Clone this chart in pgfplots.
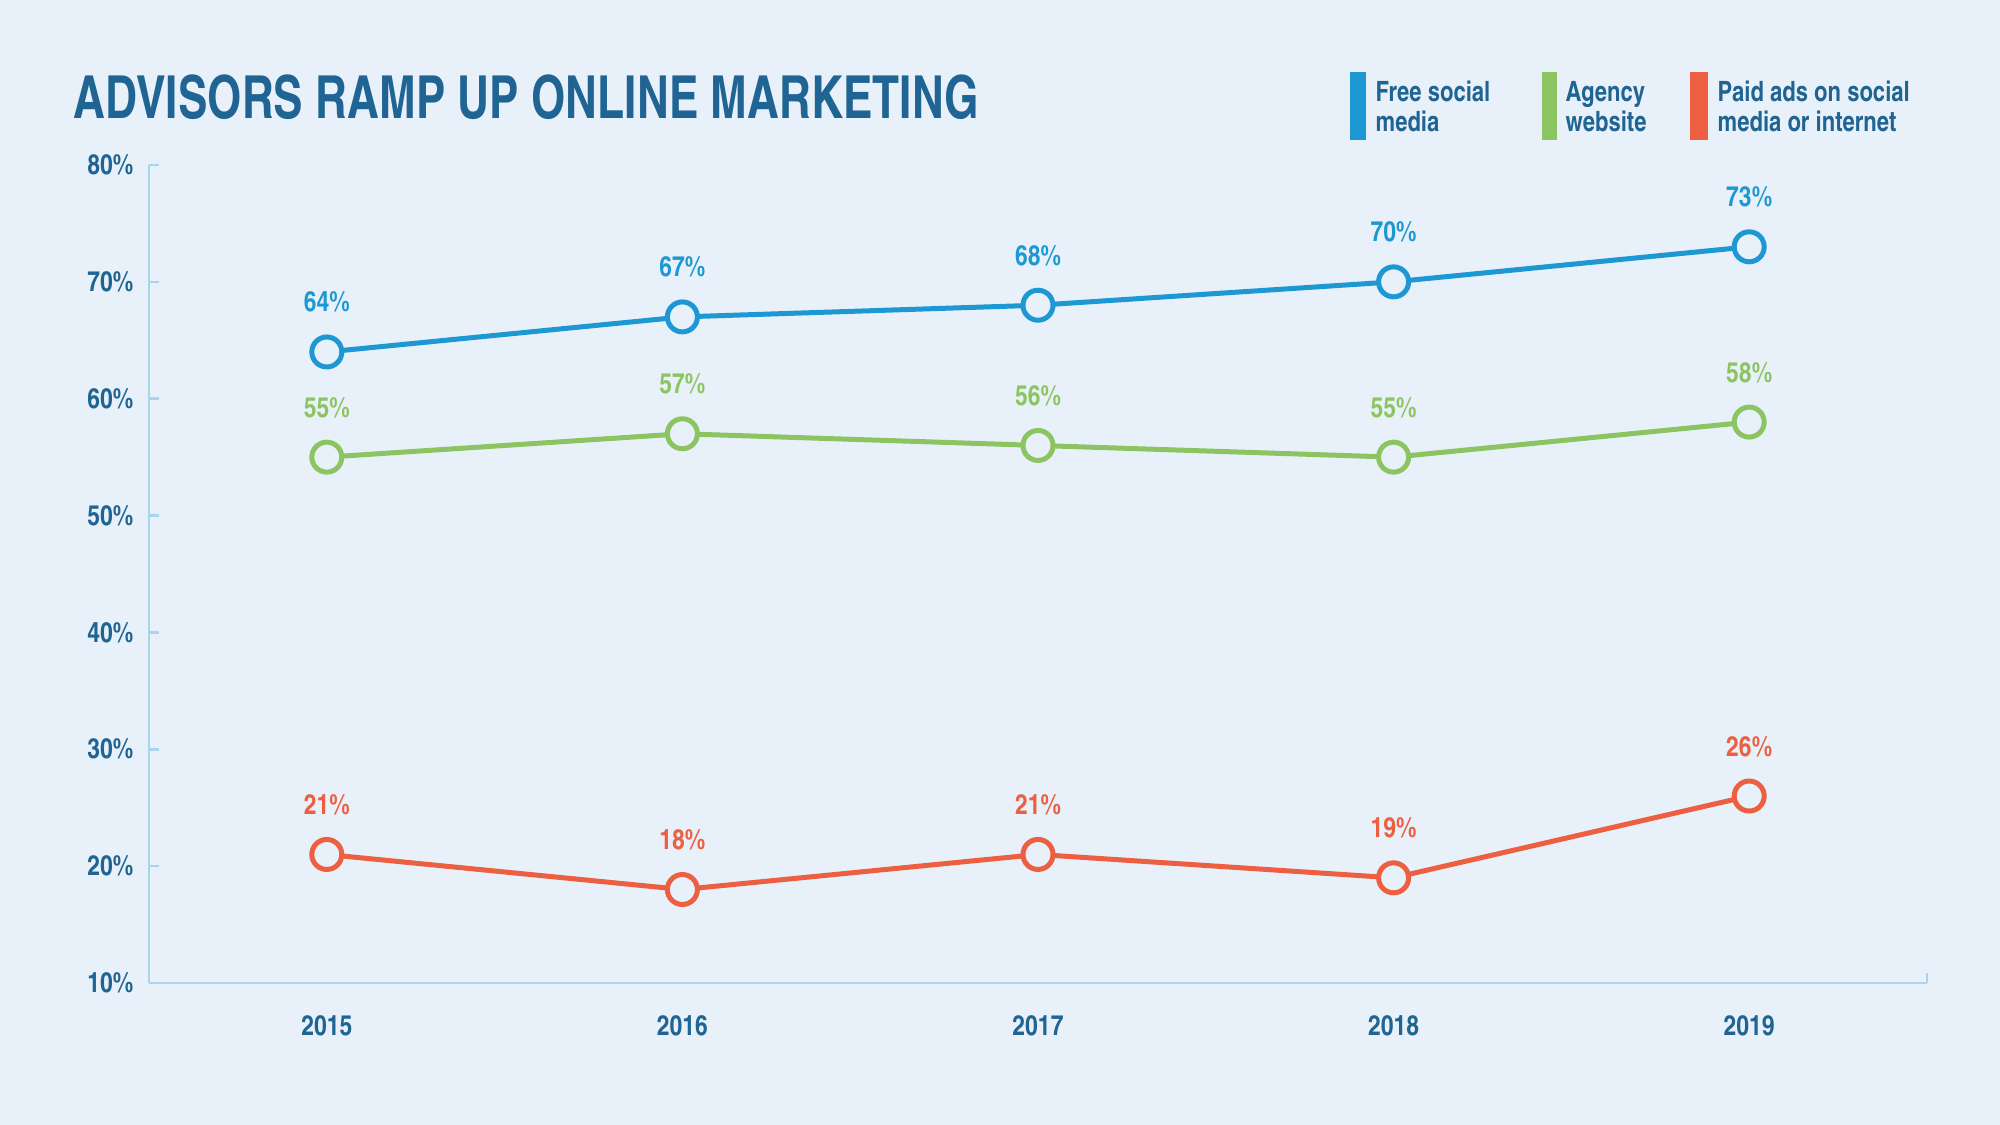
\documentclass[border=0pt]{standalone}
\usepackage{pgfplots}
\pgfplotsset{compat=1.18}
\usepackage{fontspec}
\setmainfont{texgyreheroscn-bold.otf}
\usepackage{graphicx}

\definecolor{bg}{HTML}{E8F1F9}
\definecolor{textblue}{HTML}{1F6493}
\definecolor{sblue}{HTML}{1E98D3}
\definecolor{sgreen}{HTML}{8DC462}
\definecolor{sorange}{HTML}{EC5F41}
\definecolor{axiscol}{HTML}{A9D5EC}

\begin{document}
\begin{tikzpicture}
\fill[bg] (0pt,0pt) rectangle (600pt,337.5pt);
\useasboundingbox (0pt,0pt) rectangle (600pt,337.5pt);

% title
\node[anchor=base west, inner sep=0pt, text=textblue, font=\fontsize{17.8}{20}\selectfont]
  at (21.9pt,301.8pt) {\scalebox{0.908}[1]{ADVISORS RAMP UP ONLINE MARKETING}};

% legend
\fill[sblue]   (405.0pt,295.5pt) rectangle (409.8pt,315.9pt);
\fill[sgreen]  (462.5pt,295.5pt) rectangle (467.0pt,315.9pt);
\fill[sorange] (507.0pt,295.5pt) rectangle (512.4pt,315.9pt);
\begin{scope}[every node/.style={anchor=base west, inner sep=0pt, text=textblue, font=\fontsize{8.4}{9}\selectfont}]
\node at (412.5pt,306.9pt) {\scalebox{0.96}[1]{Free social}};
\node at (412.5pt,297.9pt) {\scalebox{0.96}[1]{media}};
\node at (469.5pt,306.9pt) {\scalebox{0.96}[1]{Agency}};
\node at (469.5pt,297.9pt) {\scalebox{0.96}[1]{website}};
\node at (515.1pt,306.9pt) {\scalebox{0.96}[1]{Paid ads on social}};
\node at (515.1pt,297.9pt) {\scalebox{0.96}[1]{media or internet}};
\end{scope}

\begin{axis}[
  at={(44.7pt,42.6pt)}, anchor=south west,
  scale only axis, width=533.4pt, height=245.4pt,
  xmin=2014.5, xmax=2019.5, ymin=10, ymax=80,
  axis x line*=bottom, axis y line*=left,
  axis line style={draw=axiscol, line width=0.8pt},
  xtick={2015,2016,2017,2018,2019},
  xticklabels={2015,2016,2017,2018,2019},
  ytick={10,20,30,40,50,60,70,80},
  yticklabels={10\%,20\%,30\%,40\%,50\%,60\%,70\%,80\%},
  tick align=inside, major tick length=3pt,
  xtick style={draw=none},
  ytick style={draw=axiscol, line width=0.8pt},
  extra x ticks={2014.5,2019.5}, extra x tick labels={},
  extra x tick style={xtick style={draw=axiscol, line width=0.8pt}},
  tick label style={text=textblue, font=\fontsize{8.4}{9}\selectfont},
  yticklabel style={inner sep=0pt, xshift=-4.5pt},
  xticklabel style={inner sep=0pt, yshift=-9.6pt},
  clip=false,
  every axis plot/.append style={line width=1.5pt, mark=*, mark size=4.5pt,
     mark options={fill=bg, line width=1.5pt}},
  nodes near coords={\pgfmathprintnumber[assume math mode=true]{\pgfplotspointmeta}\%},
  every node near coord/.append style={anchor=base, inner sep=0pt, yshift=12pt,
     font=\fontsize{8.4}{9}\selectfont},
]
\addplot[sblue, every node near coord/.append style={text=sblue}] coordinates
  {(2015,64) (2016,67) (2017,68) (2018,70) (2019,73)};
\addplot[sgreen, every node near coord/.append style={text=sgreen}] coordinates
  {(2015,55) (2016,57) (2017,56) (2018,55) (2019,58)};
\addplot[sorange, every node near coord/.append style={text=sorange}] coordinates
  {(2015,21) (2016,18) (2017,21) (2018,19) (2019,26)};
\end{axis}
\end{tikzpicture}
\end{document}
